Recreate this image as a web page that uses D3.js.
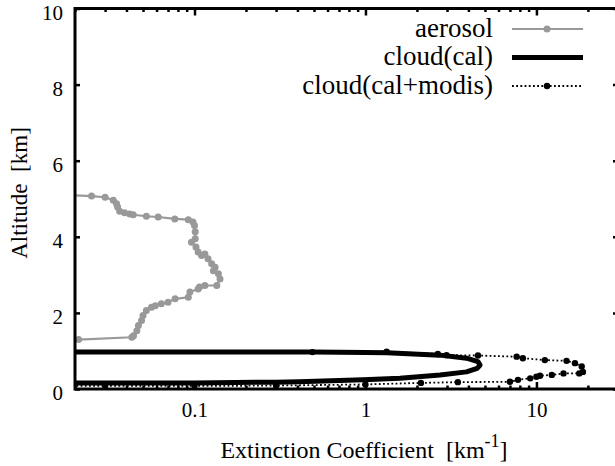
<!DOCTYPE html>
<html>
<head>
<meta charset="utf-8">
<script src="https://cdn.jsdelivr.net/npm/d3@7"></script>
<style>
  body { margin: 0; background: #fff; }
</style>
</head>
<body>
<div id="chart"></div>
<script>
// aerosol profile (altitude km, extinction km^-1)
const aerosolAlt = [5.09, 5.07, 5.04, 4.96, 4.87, 4.78, 4.67, 4.63, 4.60, 4.58, 4.54, 4.52, 4.47, 4.45, 4.39, 4.30,
  4.13, 3.95, 3.86, 3.73, 3.60, 3.51, 3.55, 3.42, 3.29, 3.20, 3.11, 3.03, 2.89, 2.72, 2.72, 2.68, 2.63, 2.55,
  2.41, 2.37, 2.28, 2.24, 2.19, 2.15, 2.06, 1.93, 1.80, 1.67, 1.53, 1.40, 1.36, 1.30];
const aerosolExt = [0.019, 0.025, 0.030, 0.0335, 0.035, 0.0355, 0.0365, 0.039, 0.0418, 0.0438, 0.0523, 0.0613, 0.0767, 0.092, 0.098, 0.100,
  0.101, 0.101, 0.096, 0.102, 0.105, 0.110, 0.115, 0.120, 0.126, 0.132, 0.129, 0.138, 0.141, 0.135, 0.115, 0.107, 0.105, 0.094,
  0.092, 0.077, 0.070, 0.064, 0.059, 0.056, 0.0523, 0.050, 0.049, 0.047, 0.046, 0.044, 0.043, 0.021];

// cloud from CALIPSO only
const calAlt = [0.97, 0.97, 0.96, 0.95, 0.89, 0.81, 0.72, 0.63, 0.54, 0.45, 0.37, 0.28, 0.24, 0.19, 0.18, 0.16, 0.16, 0.16];
const calExt = [0.01, 0.49, 1.0, 1.33, 2.73, 3.9, 4.55, 4.68, 4.5, 3.9, 2.73, 1.59, 0.97, 0.41, 0.30, 0.10, 0.04, 0.01];

// cloud from CALIPSO + MODIS
const modisAlt = [0.97, 0.97, 0.98, 0.92, 0.89, 0.88, 0.85, 0.81, 0.76, 0.74, 0.68, 0.59, 0.45, 0.41, 0.41, 0.37, 0.35,
  0.32, 0.28, 0.24, 0.19, 0.18, 0.16, 0.12, 0.09, 0.08, 0.08, 0.08];
const modisExt = [0.01, 0.49, 1.33, 2.65, 2.98, 4.55, 7.66, 8.33, 11.2, 15.0, 16.8, 18.4, 18.7, 17.8, 14.4, 12.3, 10.5,
  10.0, 9.2, 7.8, 7.0, 3.47, 2.11, 1.0, 0.3, 0.1, 0.03, 0.01];

const xMajor = [0.1, 1, 10];
const xMinor = [0.02, 0.03, 0.04, 0.05, 0.06, 0.07, 0.08, 0.09, 0.2, 0.3, 0.4, 0.5, 0.6, 0.7, 0.8, 0.9,
  2, 3, 4, 5, 6, 7, 8, 9, 20];
const yTicks = [0, 2, 4, 6, 8, 10];

const legendNames = ['aerosol', 'cloud(cal)', 'cloud(cal+modis)'];

const serif = '"Liberation Serif"';
const width = 615, height = 466;
const margin = {top: 8.5, right: -3, bottom: 77, left: 75};
const innerW = width - margin.left - margin.right;
const innerH = height - margin.top - margin.bottom;

const svg = d3.select('#chart').append('svg')
  .attr('width', width)
  .attr('height', height);

const x = d3.scaleLog().domain([0.02, 30]).range([margin.left, margin.left + innerW]);
const y = d3.scaleLinear().domain([0, 10]).range([margin.top + innerH, margin.top]);

svg.append('clipPath').attr('id', 'plotclip')
  .append('rect')
  .attr('x', margin.left).attr('y', margin.top)
  .attr('width', innerW).attr('height', innerH);

const plot = svg.append('g').attr('clip-path', 'url(#plotclip)');

const line = d3.line().x(d => x(d[0])).y(d => y(d[1]));

const aerosol = d3.zip(aerosolExt, aerosolAlt);
const cal = d3.zip(calExt, calAlt);
const modis = d3.zip(modisExt, modisAlt);

// aerosol: gray line with points
plot.append('path').datum(aerosol)
  .attr('d', line)
  .attr('fill', 'none')
  .attr('stroke', '#999')
  .attr('stroke-width', 2.2);
plot.selectAll('.aer').data(aerosol).enter().append('circle')
  .attr('class', 'aer')
  .attr('cx', d => x(d[0])).attr('cy', d => y(d[1]))
  .attr('r', 3.5)
  .attr('fill', '#999');

// cloud(cal): thick black
plot.append('path').datum(cal)
  .attr('d', line)
  .attr('fill', 'none')
  .attr('stroke', '#000')
  .attr('stroke-width', 5)
  .attr('stroke-linejoin', 'round');

// cloud(cal+modis): dotted with points
plot.append('path').datum(modis)
  .attr('d', line)
  .attr('fill', 'none')
  .attr('stroke', '#000')
  .attr('stroke-width', 1.8)
  .attr('stroke-dasharray', '1.8,2.4');
plot.selectAll('.mod').data(modis).enter().append('circle')
  .attr('class', 'mod')
  .attr('cx', d => x(d[0])).attr('cy', d => y(d[1]))
  .attr('r', 3.2)
  .attr('fill', '#000');

// axes, ticks point inward
const bottom = margin.top + innerH;
svg.append('g').attr('transform', `translate(0,${bottom})`)
  .call(d3.axisBottom(x).tickValues(xMinor).tickSize(-3.5).tickFormat(''));
svg.append('g').attr('transform', `translate(0,${bottom})`)
  .call(d3.axisBottom(x).tickValues(xMajor).tickSize(-7).tickPadding(13).tickFormat(d3.format('')));
svg.append('g').attr('transform', `translate(0,${margin.top})`)
  .call(d3.axisTop(x).tickValues(xMinor).tickSize(-3.5).tickFormat(''));
svg.append('g').attr('transform', `translate(0,${margin.top})`)
  .call(d3.axisTop(x).tickValues(xMajor).tickSize(-7).tickFormat(''));
svg.append('g').attr('transform', `translate(${margin.left},0)`)
  .call(d3.axisLeft(y).tickValues(yTicks).tickSize(-5).tickPadding(12).tickFormat(d3.format('d')));
svg.append('g').attr('transform', `translate(${margin.left + innerW},0)`)
  .call(d3.axisRight(y).tickValues(yTicks).tickSize(-5).tickFormat(''));

svg.selectAll('.domain').remove();
svg.selectAll('g').attr('font-family', null);
svg.selectAll('.tick line').attr('stroke', '#000').attr('stroke-width', 2.5);
svg.selectAll('.tick text').attr('font-size', 21);
// y labels sit a little below their ticks, like the original
svg.selectAll('.tick text').filter(function() { return d3.select(this).attr('x') < 0; })
  .attr('dy', '0.5em');

// frame
svg.append('rect')
  .attr('x', margin.left).attr('y', margin.top)
  .attr('width', innerW).attr('height', innerH)
  .attr('fill', 'none')
  .attr('stroke', '#000')
  .attr('stroke-width', 3);

// axis titles
const xt = svg.append('text')
  .attr('x', 364).attr('y', 458)
  .attr('text-anchor', 'middle')
  .attr('font-size', 24)
  .style('white-space', 'pre');
xt.append('tspan').text('Extinction Coefficient  [km');
xt.append('tspan').attr('dy', -11).attr('font-size', 18).text('-1');
xt.append('tspan').attr('dy', 11).text(']');

svg.append('text')
  .attr('transform', 'translate(27,193) rotate(-90)')
  .attr('text-anchor', 'middle')
  .attr('font-size', 23)
  .style('white-space', 'pre')
  .text('Altitude  [km]');

// legend
const legY = [29, 57.5, 86];
const leg = svg.append('g');
leg.selectAll('text').data(legendNames).enter().append('text')
  .attr('x', 493).attr('y', (d, i) => legY[i] + 7.5)
  .attr('text-anchor', 'end')
  .attr('font-size', 27)
  .text(d => d);

leg.append('line').attr('x1', 512).attr('x2', 583).attr('y1', legY[0]).attr('y2', legY[0])
  .attr('stroke', '#999').attr('stroke-width', 2.2);
leg.append('circle').attr('cx', 547).attr('cy', legY[0]).attr('r', 3.5).attr('fill', '#999');
leg.append('line').attr('x1', 512).attr('x2', 583).attr('y1', legY[1]).attr('y2', legY[1])
  .attr('stroke', '#000').attr('stroke-width', 5);
leg.append('line').attr('x1', 512).attr('x2', 583).attr('y1', legY[2]).attr('y2', legY[2])
  .attr('stroke', '#000').attr('stroke-width', 1.8).attr('stroke-dasharray', '1.8,2.4');
leg.append('circle').attr('cx', 547).attr('cy', legY[2]).attr('r', 3.2).attr('fill', '#000');

// every text in the serif face
svg.selectAll('text').style('font-family', serif).attr('fill', '#000');
</script>
</body>
</html>
